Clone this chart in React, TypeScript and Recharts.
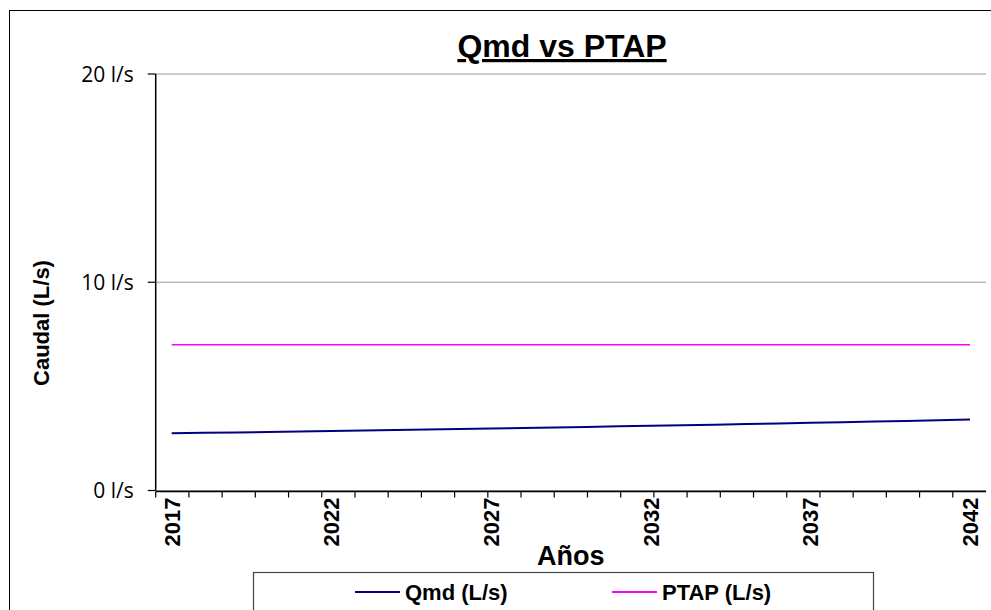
import React from "react";
import { LineChart, Line, XAxis, YAxis, CartesianGrid } from "recharts";

const years = [
  "2017", "2018", "2019", "2020", "2021", "2022", "2023", "2024", "2025", "2026",
  "2027", "2028", "2029", "2030", "2031", "2032", "2033", "2034", "2035", "2036",
  "2037", "2038", "2039", "2040", "2041", "2042",
];
const qmd = [
  2.75, 2.77, 2.79, 2.81, 2.83, 2.86, 2.88, 2.9, 2.93, 2.95,
  2.98, 3.0, 3.03, 3.05, 3.08, 3.11, 3.13, 3.16, 3.19, 3.22,
  3.25, 3.28, 3.31, 3.34, 3.37, 3.41,
];
const ptap = [
  7, 7, 7, 7, 7, 7, 7, 7, 7, 7, 7, 7, 7, 7, 7, 7, 7, 7, 7, 7, 7, 7, 7, 7, 7, 7,
];
const yTicks = [0, 10, 20];
const boundaryTicks = years.map((_, i) => i).concat([years.length]);

const series = [
  { key: "qmd", name: "Qmd (L/s)", color: "#000080", width: 2 },
  { key: "ptap", name: "PTAP (L/s)", color: "#FF00FF", width: 1.5 },
];

const data = years.map((y, i) => ({ year: y, qmd: qmd[i], ptap: ptap[i] }));

const ARIAL = "'Liberation Sans', Arial, sans-serif";

const EmptyTick = () => <g />;

const XTick = (props: any) => {
  const { x, y, payload } = props;
  return (
    <text
      x={x}
      y={y}
      transform={`rotate(-90, ${x}, ${y})`}
      textAnchor="end"
      dy="0.36em"
      fontFamily={ARIAL}
      fontWeight="bold"
      fontSize={22}
      fill="#000"
    >
      {payload.value}
    </text>
  );
};

const YTick = (props: any) => {
  const { x, y, payload } = props;
  return (
    <text
      x={x}
      y={y}
      textAnchor="end"
      dy="0.36em"
      fontFamily="'Open Sans', sans-serif"
      fontSize={21}
      fill="#000"
    >
      {`${payload.value} l/s`}
    </text>
  );
};

const YLabel = () => {
  const cx = 41;
  const cy = 323;
  return (
    <text
      x={cx}
      y={cy}
      transform={`rotate(-90, ${cx}, ${cy})`}
      textAnchor="middle"
      dy="0.36em"
      fontFamily={ARIAL}
      fontWeight="bold"
      fontSize={22}
      fill="#000"
    >
      Caudal (L/s)
    </text>
  );
};

export default function App() {
  return (
    <div
      style={{
        position: "absolute",
        left: 0,
        top: 0,
        width: 991,
        height: 610,
        overflow: "hidden",
        background: "#fff",
      }}
    >
      <div
        style={{
          position: "absolute",
          left: 9,
          top: 10,
          width: 1000,
          height: 700,
          borderTop: "1.5px solid #000",
          borderLeft: "1.5px solid #000",
        }}
      />
      <div style={{ position: "absolute", left: 0, top: 0 }}>
        <LineChart
          width={991}
          height={610}
          data={data}
          margin={{ top: 74, right: 5, left: 0, bottom: 0 }}
        >
          <CartesianGrid vertical={false} stroke="#9a9a9a" strokeWidth={1} />
          <XAxis
            dataKey="year"
            interval={4}
            padding={{ left: 16, right: 16 }}
            tickLine={false}
            axisLine={false}
            tickSize={0}
            tickMargin={7}
            height={1}
            tick={<XTick />}
          />
          <XAxis
            xAxisId="marks"
            type="number"
            domain={[0, years.length]}
            ticks={boundaryTicks}
            tick={<EmptyTick />}
            tickSize={6}
            height={118.5}
            axisLine={{ stroke: "#000", strokeWidth: 1.5 }}
            tickLine={{ stroke: "#000", strokeWidth: 1.2 }}
            allowDataOverflow
            label={{
              value: "Años",
              position: "insideBottom",
              offset: 45,
              fontFamily: ARIAL,
              fontWeight: "bold",
              fontSize: 27,
              fill: "#000",
            }}
          />
          <YAxis
            domain={[0, 20]}
            ticks={yTicks}
            width={155.7}
            tickSize={8}
            tickMargin={14}
            axisLine={{ stroke: "#000", strokeWidth: 1.5 }}
            tickLine={{ stroke: "#000", strokeWidth: 1.2 }}
            tick={<YTick />}
            label={<YLabel />}
          />
          <YAxis
            yAxisId="border"
            orientation="right"
            domain={[0, 20]}
            width={0}
            tick={false}
            tickLine={false}
            axisLine={{ stroke: "#9a9a9a", strokeWidth: 1.5 }}
          />
          {series.map((s) => (
            <Line
              key={s.key}
              type="linear"
              dataKey={s.key}
              name={s.name}
              stroke={s.color}
              strokeWidth={s.width}
              dot={false}
              activeDot={false}
              isAnimationActive={false}
            />
          ))}
        </LineChart>
      </div>
      <svg
        width={991}
        height={610}
        style={{ position: "absolute", left: 0, top: 0, pointerEvents: "none" }}
      >
        <text
          x={562}
          y={57}
          textAnchor="middle"
          fontFamily={ARIAL}
          fontWeight="bold"
          fontSize={32}
          fill="#000"
          textDecoration="underline"
        >
          Qmd vs PTAP
        </text>
        <rect x={253.5} y={572.5} width={620} height={60} fill="#fff" stroke="#444" strokeWidth={1.2} />
        {series.map((s, i) => {
          const lx = i === 0 ? 355 : 612;
          return (
            <g key={s.key}>
              <line x1={lx} x2={lx + 45} y1={592} y2={592} stroke={s.color} strokeWidth={2} />
              <text
                x={lx + 50}
                y={592}
                dy="0.36em"
                fontFamily={ARIAL}
                fontWeight="bold"
                fontSize={22}
                fill="#000"
              >
                {s.name}
              </text>
            </g>
          );
        })}
      </svg>
    </div>
  );
}
